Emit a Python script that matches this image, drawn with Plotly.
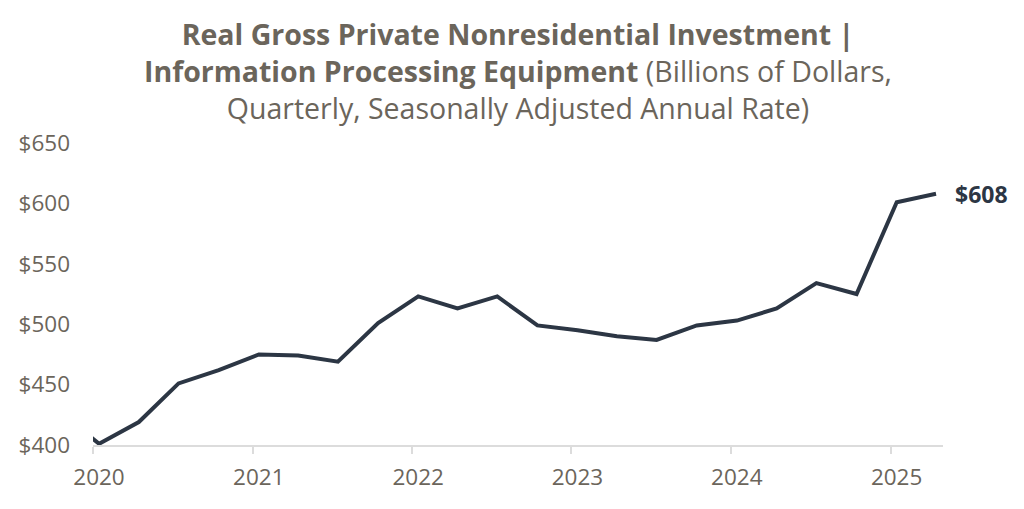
import plotly.graph_objects as go

dates = ["2019-10-15",
         "2020-01-15", "2020-04-15", "2020-07-15", "2020-10-15",
         "2021-01-15", "2021-04-15", "2021-07-15", "2021-10-15",
         "2022-01-15", "2022-04-15", "2022-07-15", "2022-10-15",
         "2023-01-15", "2023-04-15", "2023-07-15", "2023-10-15",
         "2024-01-15", "2024-04-15", "2024-07-15", "2024-10-15",
         "2025-01-15", "2025-04-15"]
values = [428,
          401, 419, 451, 462,
          475, 474, 469, 501,
          523, 513, 523, 499,
          495, 490, 487, 499,
          503, 513, 534, 525,
          601, 608]

y_ticks = [400, 450, 500, 550, 600, 650]
y_tick_labels = ["$400", "$450", "$500", "$550", "$600", "$650"]
x_ticks = ["2020-01-01", "2021-01-01", "2022-01-01", "2023-01-01", "2024-01-01", "2025-01-01"]
x_tick_labels = ["2020", "2021", "2022", "2023", "2024", "2025"]
last_label = "$608"

title_lines = ["<b>Real Gross Private Nonresidential Investment |</b>",
               "<b>Information Processing Equipment</b> (Billions of Dollars,",
               "Quarterly, Seasonally Adjusted Annual Rate)"]

line_color = "#2c3644"
text_color = "#6b655b"
font_family = "Open Sans"

W, H = 1024, 509
M_L, M_R, M_T, M_B = 93, 81, 143, 64
plot_h = H - M_T - M_B

fig = go.Figure()
fig.add_trace(go.Scatter(x=dates, y=values, mode="lines",
                         line=dict(color=line_color, width=4),
                         cliponaxis=True, hoverinfo="skip"))

fig.add_annotation(x=dates[-1], y=values[-1], text="<b>" + last_label + "</b>",
                   showarrow=False, xanchor="left", yanchor="middle", xshift=17,
                   font=dict(family=font_family, size=23, color=line_color))

title_center_px = 71
fig.add_annotation(x=0.5, xref="paper", xanchor="center",
                   y=(H - M_B - title_center_px) / plot_h, yref="paper", yanchor="middle",
                   text="<br>".join(title_lines), showarrow=False, align="center",
                   font=dict(family=font_family, size=28.5, color=text_color))

fig.update_layout(
    width=W, height=H,
    paper_bgcolor="white", plot_bgcolor="white",
    margin=dict(l=M_L, r=M_R, t=M_T, b=M_B),
    showlegend=False,
    xaxis=dict(range=["2020-01-01", "2025-05-01"], tickvals=x_ticks, ticktext=x_tick_labels,
               showgrid=False, zeroline=False, showline=True, linecolor="#dcdcdc", linewidth=1.5,
               ticks="outside", ticklen=7, tickcolor="#dcdcdc", tickwidth=1.5,
               ticklabelshift=6, ticklabelstandoff=4,
               tickfont=dict(family=font_family, size=22.5, color=text_color)),
    yaxis=dict(range=[400, 650], tickvals=y_ticks, ticktext=y_tick_labels,
               showgrid=False, zeroline=False, showline=False,
               ticks="", ticklabelstandoff=22,
               tickfont=dict(family=font_family, size=22.5, color=text_color)),
)

fig.write_html("out.html", config={"displayModeBar": False},
               post_script="document.body.style.margin='0';document.body.style.overflow='hidden';")
